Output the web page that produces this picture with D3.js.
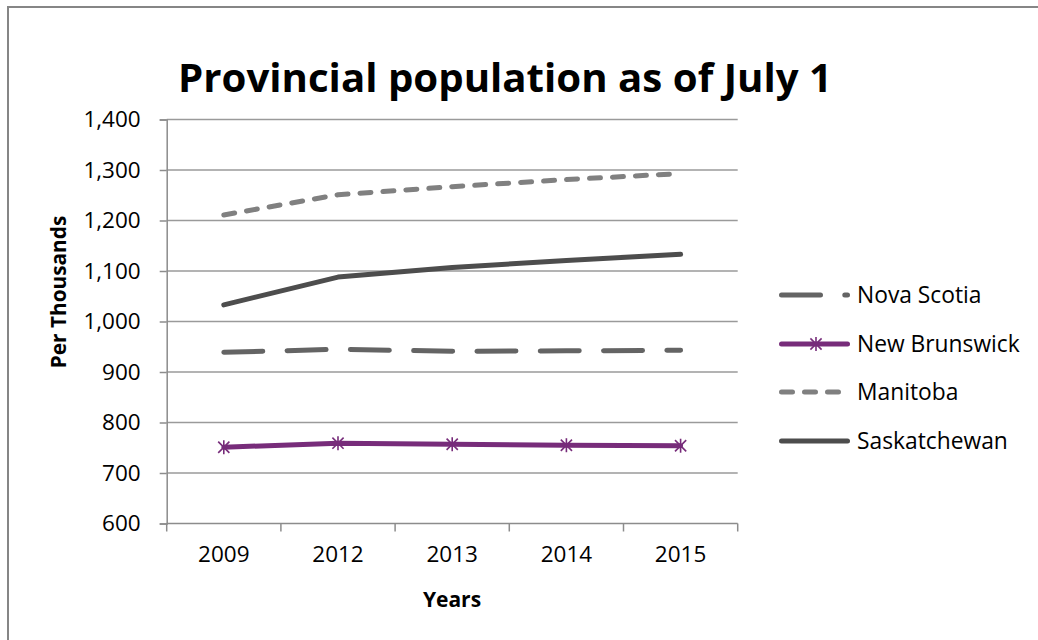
<!DOCTYPE html>
<html>
<head>
<meta charset="utf-8">
<script src="https://cdn.jsdelivr.net/npm/d3@7"></script>
<style>
  html, body { margin: 0; padding: 0; background: #fff; }
  svg { display: block; }
  text { font-family: "Open Sans", "Noto Sans", sans-serif; fill: #000; }
</style>
</head>
<body>
<svg id="chart" width="1038" height="640"></svg>
<script>
const years = ["2009", "2012", "2013", "2014", "2015"];
const novaScotia = [939, 945, 941, 942, 943];
const newBrunswick = [751, 759, 757, 755, 754];
const manitoba = [1211, 1251, 1267, 1281, 1293];
const saskatchewan = [1033, 1088, 1107, 1121, 1133];
const yTicks = [600, 700, 800, 900, 1000, 1100, 1200, 1300, 1400];
const seriesNames = ["Nova Scotia", "New Brunswick", "Manitoba", "Saskatchewan"];

(function () {
const series = [
  { name: seriesNames[0], values: novaScotia, color: "#646464", width: 5, dash: "39,24.3", marker: false },
  { name: seriesNames[1], values: newBrunswick, color: "#772C7A", width: 5, dash: null, marker: true },
  { name: seriesNames[2], values: manitoba, color: "#808080", width: 5, dash: "11,12", marker: false },
  { name: seriesNames[3], values: saskatchewan, color: "#4D4D4D", width: 5, dash: null, marker: false }
];

const svg = d3.select("#chart");

// outer chart border
svg.append("rect").attr("x", 8).attr("y", 7).attr("width", 1040).attr("height", 650)
  .attr("fill", "#fff").attr("stroke", "#868686").attr("stroke-width", 2);

const pL = 166.7, pR = 737.7, pT = 119.5, pB = 523.5;

const x = d3.scaleBand().domain(years).range([pL, pR]).padding(0);
const y = d3.scaleLinear().domain([600, 1400]).range([pB, pT]);

// gridlines
svg.append("g").selectAll("line").data(yTicks.filter(d => d !== 600)).join("line")
  .attr("x1", pL).attr("x2", pR)
  .attr("y1", d => y(d)).attr("y2", d => y(d))
  .attr("stroke", "#9a9a9a").attr("stroke-width", 1.5);

// y axis
const yAxis = d3.axisLeft(y).tickValues(yTicks).tickSize(7).tickPadding(19)
  .tickFormat(d3.format(","));
const gy = svg.append("g").attr("transform", `translate(${pL},0)`).call(yAxis);
gy.select(".domain").attr("stroke", "#8c8c8c").attr("stroke-width", 1.5);
gy.selectAll(".tick line").attr("stroke", "#8c8c8c").attr("stroke-width", 1.5);
gy.selectAll(".tick text").attr("font-size", 22.5).attr("font-family", "Open Sans").attr("fill", "#000");

// x axis
const xAxis = d3.axisBottom(x).tickSize(0).tickPadding(23);
const gx = svg.append("g").attr("transform", `translate(0,${pB})`).call(xAxis);
gx.select(".domain").attr("stroke", "#8c8c8c").attr("stroke-width", 1.5)
  .attr("d", `M${pL},0H${pR}`);
gx.selectAll(".tick text").attr("font-size", 22.5).attr("font-family", "Open Sans").attr("fill", "#000");
// category boundary ticks
const bounds = years.map(d => x(d)).concat([x(years[years.length - 1]) + x.bandwidth()]);
gx.append("g").selectAll("line").data(bounds).join("line")
  .attr("x1", d => d).attr("x2", d => d).attr("y1", 0).attr("y2", 8)
  .attr("stroke", "#8c8c8c").attr("stroke-width", 1.5);

const cx = d => x(d) + x.bandwidth() / 2;

// lines
const line = d3.line().x((d, i) => cx(years[i])).y(d => y(d));
series.forEach(s => {
  svg.append("path").datum(s.values).attr("d", line)
    .attr("fill", "none").attr("stroke", s.color).attr("stroke-width", s.width)
    .attr("stroke-linecap", "round").attr("stroke-linejoin", "round")
    .attr("stroke-dasharray", s.dash);
});

// asterisk markers
function star(g, px, py, color, r) {
  g.append("line").attr("x1", px).attr("x2", px).attr("y1", py - r).attr("y2", py + r)
    .attr("stroke", color).attr("stroke-width", 1.6);
  g.append("line").attr("x1", px - r * 0.8).attr("x2", px + r * 0.8).attr("y1", py - r * 0.8).attr("y2", py + r * 0.8)
    .attr("stroke", color).attr("stroke-width", 1.6);
  g.append("line").attr("x1", px - r * 0.8).attr("x2", px + r * 0.8).attr("y1", py + r * 0.8).attr("y2", py - r * 0.8)
    .attr("stroke", color).attr("stroke-width", 1.6);
}
const mk = svg.append("g");
newBrunswick.forEach((v, i) => star(mk, cx(years[i]), y(v), "#772C7A", 7));

// title
svg.append("text").attr("x", 505).attr("y", 92).attr("text-anchor", "middle")
  .attr("font-size", 40).attr("font-weight", "bold").text("Provincial population as of July 1")
  .attr("textLength", 654).attr("lengthAdjust", "spacingAndGlyphs");

// axis titles
svg.append("text").attr("transform", "translate(66,292) rotate(-90)").attr("text-anchor", "middle")
  .attr("font-size", 20.8).attr("font-weight", "bold").text("Per Thousands");
svg.append("text").attr("x", 452).attr("y", 607).attr("text-anchor", "middle")
  .attr("font-size", 21).attr("font-weight", "bold").text("Years");

// legend
const legendY = [295, 344, 392, 441];
const lg = svg.append("g");
series.forEach((s, i) => {
  const ly = legendY[i];
  lg.append("line").attr("x1", 781.5).attr("x2", 847.5).attr("y1", ly).attr("y2", ly)
    .attr("stroke", s.color).attr("stroke-width", s.width).attr("stroke-linecap", "round")
    .attr("stroke-dasharray", s.dash);
  if (s.marker) star(lg, 816, ly, s.color, 7);
  lg.append("text").attr("x", 857).attr("y", ly + 8).attr("font-size", 22.8).text(s.name);
});
})();
</script>
</body>
</html>
